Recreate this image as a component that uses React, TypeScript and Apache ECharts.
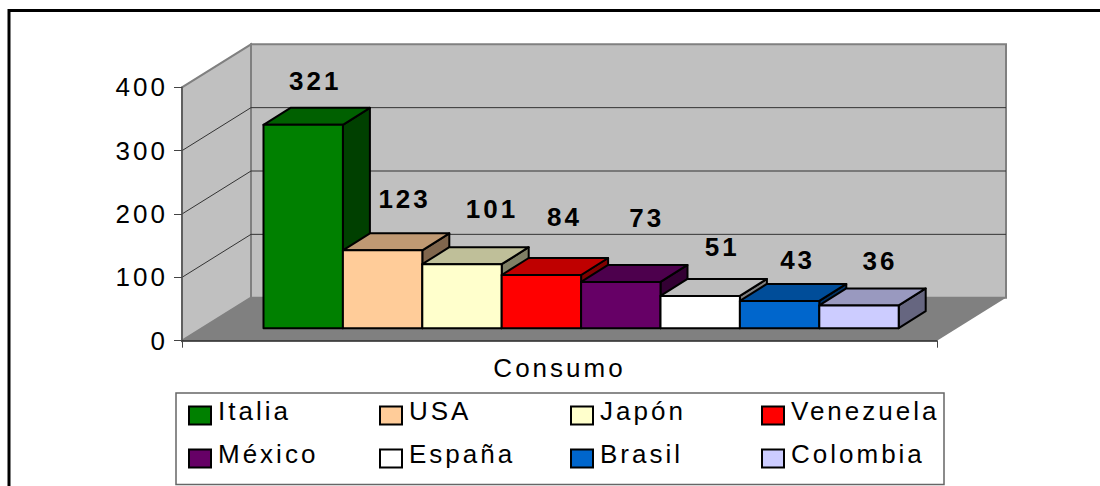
import React, { useEffect, useRef } from "react";
import * as echarts from "echarts";

const categories = ["Consumo"];
const countries = ["Italia", "USA", "Japón", "Venezuela", "México", "España", "Brasil", "Colombia"];
const values = [321, 123, 101, 84, 73, 51, 43, 36];
const colors = ["#008000", "#FFCC99", "#FFFFCC", "#FF0000", "#660066", "#FFFFFF", "#0066CC", "#CCCCFF"];
const yTicks = [0, 100, 200, 300, 400];
// hand-placed data labels in the reference: offset from the bar's centre / top
const labelDx = [12, 22, 30, 23, 26, 22, 18, 21];
const labelDy = [-44, -51, -55, -58, -64, -49, -41, -44];
const legendLeft = [188, 379, 570, 761];
const legendTop = [398, 441];

const FONT = '"Liberation Sans", Arial, sans-serif';
const WALL_DX = 69;
const WALL_DY = -43;
const BAR_DX = 27;
const BAR_DY = -17;
const BAR_X0 = 81.5;
const BAR_W = 79.4;
const BAR_LIFT = 12.5;

function shade(hex: string, k: number) {
  const n = parseInt(hex.slice(1), 16);
  const c = [(n >> 16) & 255, (n >> 8) & 255, n & 255].map((v) => Math.round(v * k));
  return `rgb(${c[0]},${c[1]},${c[2]})`;
}

export default function App() {
  const ref = useRef<HTMLDivElement>(null);
  useEffect(() => {
    const chart = echarts.init(ref.current!, undefined, { renderer: "svg" });

    const wallSeries = {
      type: "custom",
      name: "walls",
      silent: true,
      z: 1,
      data: [[0, 0]],
      encode: { x: 0, y: 1 },
      renderItem: (_p: any, api: any) => {
        const band = api.size([1, 0])[0];
        const [cx, y0] = api.coord([0, 0]);
        const x0 = cx - band / 2;
        const x1 = cx + band / 2;
        const yTop = api.coord([0, yTicks[yTicks.length - 1]])[1];
        const children: any[] = [
          {
            type: "polygon",
            shape: { points: [[x0, y0], [x0 + WALL_DX, y0 + WALL_DY], [x0 + WALL_DX, yTop + WALL_DY], [x0, yTop]] },
            style: { fill: "#C0C0C0", stroke: "#808080", lineWidth: 2 },
          },
          {
            type: "polygon",
            shape: { points: [[x0 + WALL_DX, y0 + WALL_DY], [x1 + WALL_DX, y0 + WALL_DY], [x1 + WALL_DX, yTop + WALL_DY], [x0 + WALL_DX, yTop + WALL_DY]] },
            style: { fill: "#C0C0C0", stroke: "#808080", lineWidth: 2 },
          },
          {
            type: "polygon",
            shape: { points: [[x0, y0], [x0 + WALL_DX, y0 + WALL_DY], [x1 + WALL_DX, y0 + WALL_DY], [x1, y0]] },
            style: { fill: "#808080" },
          },
        ];
        yTicks.slice(1, -1).forEach((t) => {
          const y = api.coord([0, t])[1];
          children.push({
            type: "polyline",
            shape: { points: [[x0, y], [x0 + WALL_DX, y + WALL_DY], [x1 + WALL_DX, y + WALL_DY]] },
            style: { fill: "none", stroke: "#333333", lineWidth: 1 },
          });
        });
        return { type: "group", children };
      },
    };

    const barSeries = countries.map((name, i) => ({
      type: "custom",
      name,
      z: 2 + i * 0.01,
      silent: true,
      itemStyle: { color: colors[i], borderColor: "#000", borderWidth: 2 },
      data: [[0, values[i]]],
      encode: { x: 0, y: 1 },
      renderItem: (_p: any, api: any) => {
        const band = api.size([1, 0])[0];
        const [cx, yv] = api.coord([0, api.value(1)]);
        const y0 = api.coord([0, 0])[1];
        const xl = cx - band / 2 + BAR_X0 + i * BAR_W;
        const xr = xl + BAR_W;
        const yb = y0 - BAR_LIFT;
        const yt = yv - BAR_LIFT;
        const edge = { stroke: "#000", lineWidth: 2, lineJoin: "round" };
        return {
          type: "group",
          children: [
            {
              type: "polygon",
              shape: { points: [[xr, yb], [xr + BAR_DX, yb + BAR_DY], [xr + BAR_DX, yt + BAR_DY], [xr, yt]] },
              style: { fill: shade(colors[i], 0.5), ...edge },
            },
            {
              type: "polygon",
              shape: { points: [[xl, yt], [xr, yt], [xr + BAR_DX, yt + BAR_DY], [xl + BAR_DX, yt + BAR_DY]] },
              style: { fill: shade(colors[i], 0.75), ...edge },
            },
            {
              type: "rect",
              shape: { x: xl, y: yt, width: BAR_W, height: yb - yt },
              style: { fill: colors[i], ...edge },
            },
            {
              type: "text",
              z2: 100,
              style: {
                text: String(values[i]),
                x: xl + BAR_W / 2 + labelDx[i],
                y: yt + labelDy[i],
                align: "center",
                verticalAlign: "middle",
                fill: "#000",
                font: `bold 26px ${FONT}`,
              },
            },
          ],
        };
      },
    }));

    const legends = countries.map((name, i) => ({
      show: true,
      data: [name],
      left: legendLeft[i % 4],
      top: legendTop[Math.floor(i / 4)],
      padding: 0,
      itemWidth: 22,
      itemHeight: 18,
      itemGap: 0,
      icon: "rect",
      selectedMode: false,
      itemStyle: { borderColor: "#000", borderWidth: 2 },
      formatter: "{t|{name}}",
      textStyle: {
        fontFamily: FONT,
        fontSize: 26,
        color: "#000",
        rich: {
          t: { fontFamily: FONT, fontSize: 26, color: "#000", padding: [0, 0, 9, 2] },
        },
      },
    }));

    chart.setOption({
      animation: false,
      backgroundColor: "#fff",
      textStyle: { fontFamily: FONT },
      grid: { left: 182, right: 163, top: 87.3, bottom: 145.3, containLabel: false },
      xAxis: {
        type: "category",
        data: categories,
        z: 10,
        axisLine: { lineStyle: { color: "#222", width: 1.5 } },
        axisTick: { show: true, length: 7, lineStyle: { color: "#444", width: 1 } },
        axisLabel: { fontSize: 26, color: "#000", margin: 14, fontFamily: FONT },
      },
      yAxis: {
        type: "value",
        min: 0,
        max: 400,
        interval: 100,
        z: 10,
        splitLine: { show: false },
        axisLine: { show: true, lineStyle: { color: "#555", width: 1.5 } },
        axisTick: { show: true, length: 8, lineStyle: { color: "#444", width: 1 } },
        axisLabel: { fontSize: 26, color: "#000", margin: 14, fontFamily: FONT },
      },
      legend: legends,
      graphic: [
        {
          type: "polyline",
          z: 20,
          silent: true,
          shape: { points: [[9, 486], [9, 10.5], [1100, 10.5]] },
          style: { fill: "none", stroke: "#000", lineWidth: 3 },
        },
        {
          type: "rect",
          z: 0,
          silent: true,
          shape: { x: 176, y: 393, width: 768, height: 91.5 },
          style: { fill: "#fff", stroke: "#666", lineWidth: 1.5 },
        },
      ],
      series: [wallSeries, ...barSeries],
    });
    return () => chart.dispose();
  }, []);

  return (
    <div
      ref={ref}
      style={{ position: "fixed", left: 0, top: 0, width: 1100, height: 486, letterSpacing: "3px" }}
    />
  );
}
